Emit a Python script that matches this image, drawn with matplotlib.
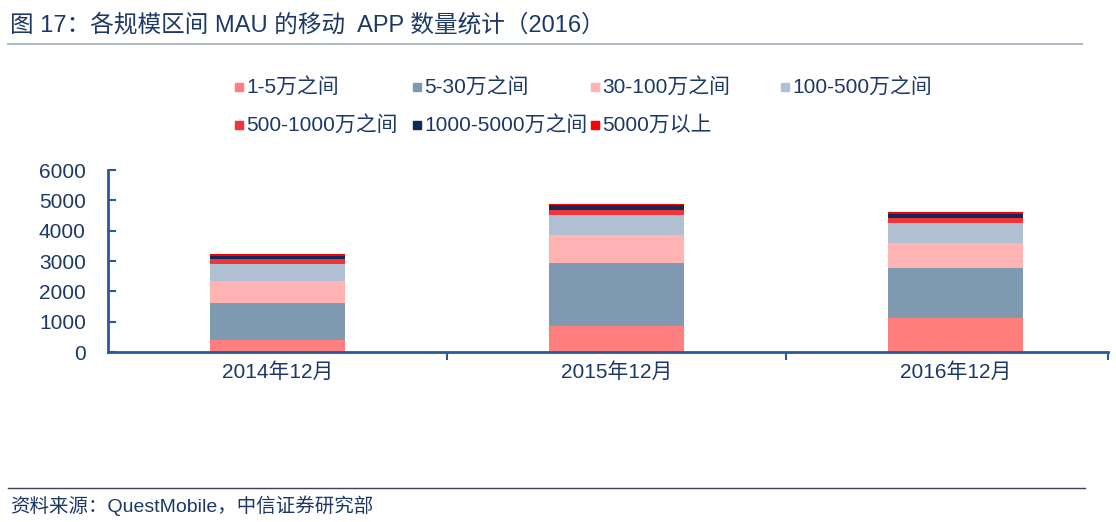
import matplotlib.pyplot as plt
import numpy as np
from matplotlib.patches import Rectangle
from matplotlib.lines import Line2D

plt.rcParams['font.family'] = ['Liberation Sans', 'Noto Sans CJK SC', 'DejaVu Sans']

# Data (number of apps per MAU band)
categories = ['2014年12月', '2015年12月', '2016年12月']
series_names = ['1-5万之间', '5-30万之间', '30-100万之间', '100-500万之间',
                '500-1000万之间', '1000-5000万之间', '5000万以上']
band_1_5 = [400, 860, 1110]
band_5_30 = [1210, 2070, 1650]
band_30_100 = [735, 935, 845]
band_100_500 = [560, 660, 640]
band_500_1000 = [155, 165, 165]
band_1000_5000 = [120, 140, 140]
band_5000_up = [45, 55, 55]
yticks = [0, 1000, 2000, 3000, 4000, 5000, 6000]

colors = ['#ff7f7f', '#7f9ab0', '#ffb3b3', '#b0c0d2', '#f0343a', '#0f2a5a', '#ff0000']
text_color = '#1b3866'
axis_color = '#2a5a9a'

W, H = 1116, 522
fig = plt.figure(figsize=(W / 100, H / 100), dpi=100)

# axes placed in pixel terms of the reference
left, right, top, bottom = 108, 1108, 170, 352
ax = fig.add_axes([left / W, 1 - bottom / H, (right - left) / W, (bottom - top) / H])

series = [band_1_5, band_5_30, band_30_100, band_100_500,
          band_500_1000, band_1000_5000, band_5000_up]
x = np.arange(len(categories))
base = np.zeros(len(categories))
for vals, c, name in zip(series, colors, series_names):
    ax.bar(x, vals, width=0.4, bottom=base, color=c, label=name, linewidth=0)
    base += np.array(vals)

ax.set_xlim(-0.5, 2.45)
ax.set_ylim(0, 6000)
ax.set_yticks(yticks)
ax.set_yticklabels([str(v) for v in yticks], fontsize=15, color=text_color)
ax.set_xticks(x)
ax.set_xticklabels(categories, fontsize=15, color=text_color)
ax.set_xticks([0.5, 1.5, 2.45], minor=True)

for s in ['top', 'right']:
    ax.spines[s].set_visible(False)
for s in ['left', 'bottom']:
    ax.spines[s].set_color(axis_color)
    ax.spines[s].set_linewidth(2)

ax.tick_params(axis='y', direction='in', length=6, width=1.5, color=axis_color, pad=16)
ax.tick_params(axis='x', which='major', length=0, pad=7)
ax.tick_params(axis='x', which='minor', direction='out', length=6, width=1.5, color=axis_color)

# legend drawn by hand so columns sit where the reference has them
col_x = [235, 413, 591, 781]
row_y = [87, 125]
for i, (name, c) in enumerate(zip(series_names, colors)):
    r, k = divmod(i, 4)
    mx, my = col_x[k], row_y[r]
    fig.patches.append(Rectangle((mx / W, 1 - (my + 4) / H), 8 / W, 8 / H,
                                 transform=fig.transFigure, color=c, figure=fig))
    fig.text((mx + 11) / W, 1 - my / H, name, fontsize=15, color=text_color,
             va='center', ha='left')

# title and source lines
fig.text(10 / W, 1 - 25 / H, '图 17：各规模区间 MAU 的移动  APP 数量统计（2016）',
         fontsize=17, color=text_color, va='center', ha='left')
fig.add_artist(Line2D([8 / W, 1082 / W], [1 - 44 / H, 1 - 44 / H],
                      color='#b4bac4', linewidth=1.5, transform=fig.transFigure))
fig.add_artist(Line2D([8 / W, 1085 / W], [1 - 488 / H, 1 - 488 / H],
                      color='#3a4250', linewidth=1, transform=fig.transFigure))
fig.text(10 / W, 1 - 506 / H, '资料来源：QuestMobile，中信证券研究部',
         fontsize=14, color=text_color, va='center', ha='left')

fig.savefig('out.png', dpi=100)
